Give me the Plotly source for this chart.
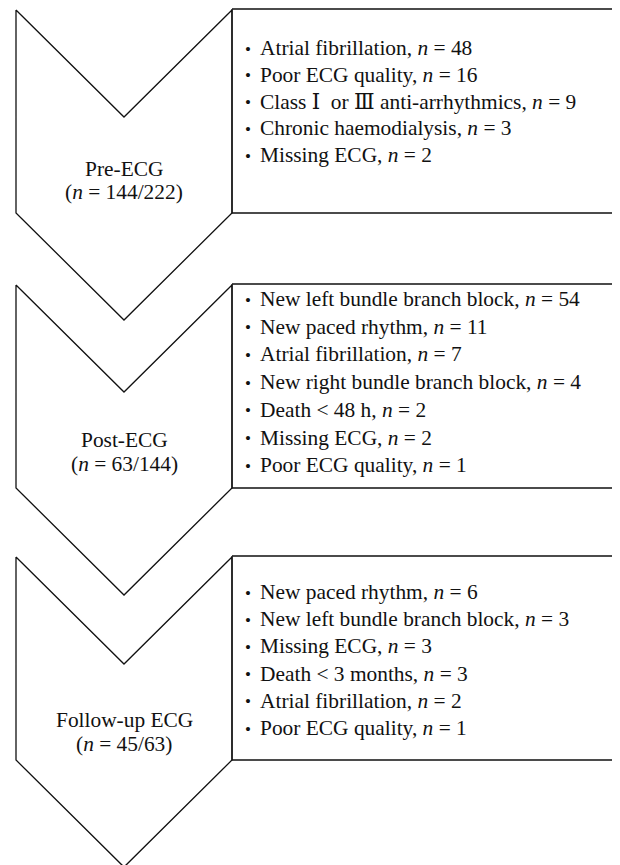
import plotly.graph_objects as go

# ---- data ----
stages = ["Pre-ECG", "Post-ECG", "Follow-up ECG"]
stage_n = [144, 63, 45]
stage_total = [222, 144, 63]

pre_reasons = ["Atrial fibrillation", "Poor ECG quality",
               "Class <span style=\"font-family:'DejaVu Serif'\">\u2160</span>  or "
               "<span style=\"font-family:'DejaVu Serif'\">\u2162</span> anti-arrhythmics",
               "Chronic haemodialysis", "Missing ECG"]
pre_counts = [48, 16, 9, 3, 2]
post_reasons = ["New left bundle branch block", "New paced rhythm", "Atrial fibrillation",
                "New right bundle branch block", "Death < 48 h", "Missing ECG", "Poor ECG quality"]
post_counts = [54, 11, 7, 4, 2, 2, 1]
fu_reasons = ["New paced rhythm", "New left bundle branch block", "Missing ECG",
              "Death < 3 months", "Atrial fibrillation", "Poor ECG quality"]
fu_counts = [6, 3, 3, 3, 2, 1]

reasons = [pre_reasons, post_reasons, fu_reasons]
counts = [pre_counts, post_counts, fu_counts]

# ---- layout geometry (pixels of the page) ----
W, H = 620, 865
PAGE_OFF = 8  # default body margin of the html page
tops = [10, 285, 557]
XL, XC, XR, XBOX = 16, 124, 232, 618
NOTCH, BODY, TIP = 107, 203, 107
first_line = [48, 299, 592]
line_gap = [26.8, 27.7, 27.2]
label_y = [[169, 192], [440, 464], [720, 744]]

FONT = "Liberation Serif, Times New Roman, serif"
FS = 21.4
LINE = dict(color="#111111", width=1.3)

fig = go.Figure()
annotations = []
for i, top in enumerate(tops):
    cx = [XL, XC, XR, XR, XC, XL, XL]
    cy = [top, top + NOTCH, top, top + BODY, top + BODY + TIP, top + BODY, top]
    fig.add_trace(go.Scatter(x=cx, y=cy, mode="lines", line=LINE, fill="toself",
                             fillcolor="white", hoverinfo="skip", showlegend=False))
    bx = [XR, XBOX, XBOX, XR, XR]
    by = [top - 1, top - 1, top + BODY, top + BODY, top - 1]
    fig.add_trace(go.Scatter(x=bx, y=by, mode="lines", line=LINE,
                             hoverinfo="skip", showlegend=False))
    annotations.append(dict(x=XC, y=label_y[i][0], text=stages[i], showarrow=False,
                            xanchor="center", yanchor="middle",
                            font=dict(family=FONT, size=FS, color="#111")))
    annotations.append(dict(x=XC, y=label_y[i][1],
                            text=f"(<i>n</i> = {stage_n[i]}/{stage_total[i]})",
                            showarrow=False, xanchor="center", yanchor="middle",
                            font=dict(family=FONT, size=FS, color="#111")))
    for j, (r, c) in enumerate(zip(reasons[i], counts[i])):
        y = first_line[i] + j * line_gap[i]
        annotations.append(dict(x=243, y=y + 1, text="\u2022", showarrow=False,
                                xanchor="left", yanchor="middle",
                                font=dict(family=FONT, size=17, color="#111")))
        annotations.append(dict(x=258, y=y, text=f"{r}, <i>n</i> = {c}", showarrow=False,
                                xanchor="left", yanchor="middle",
                                font=dict(family=FONT, size=FS, color="#111")))

fig.update_layout(
    width=W, height=H, margin=dict(l=0, r=0, t=0, b=0),
    paper_bgcolor="white", plot_bgcolor="white",
    xaxis=dict(range=[PAGE_OFF, W + PAGE_OFF], visible=False, fixedrange=True),
    yaxis=dict(range=[H + PAGE_OFF, PAGE_OFF], visible=False, fixedrange=True),
    annotations=annotations, showlegend=False,
)
fig.write_html("out.html", config={"displayModeBar": False})
